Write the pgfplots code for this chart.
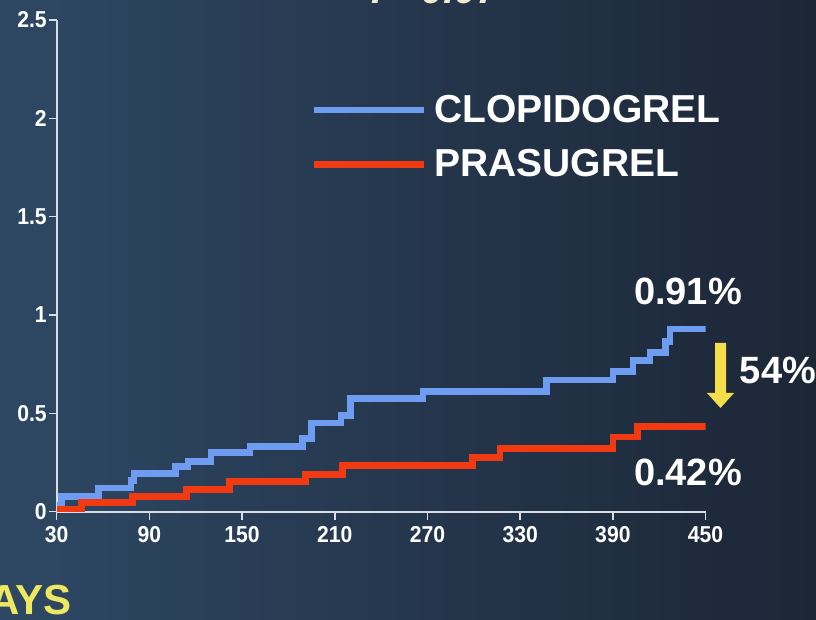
\documentclass[border=0pt]{standalone}
\usepackage{pgfplots}
\pgfplotsset{compat=1.18}
\usepackage{fontspec}
\setmainfont{Liberation Sans}
\newfontfamily\narrowfont[FakeStretch=0.92]{Liberation Sans}
\definecolor{bgL}{HTML}{2E4864}
\definecolor{bgR}{HTML}{1C2636}
\definecolor{clopi}{HTML}{6E9CF0}
\definecolor{prasu}{HTML}{F23A12}
\definecolor{axcol}{HTML}{D8DEE8}
\definecolor{arrowy}{HTML}{F4DE4C}
\definecolor{daysy}{HTML}{EEE860}
\begin{document}
\begin{tikzpicture}
\path[use as bounding box] (0,0) rectangle (408pt,310pt);
\clip (0,0) rectangle (408pt,310pt);
\shade[left color=bgL, right color=bgR] (0,0) rectangle (408pt,310pt);
\begin{axis}[
  at={(28.35pt,54.15pt)}, anchor=south west,
  scale only axis, width=324.45pt, height=245.85pt,
  xmin=30, xmax=450, ymin=0, ymax=2.5,
  axis lines=left,
  axis line style={axcol, line width=1pt, -},
  xtick={30,90,150,210,270,330,390,450},
  ytick={0,0.5,1,1.5,2,2.5},
  tick align=outside, major tick length=4pt,
  tick style={axcol, line width=0.8pt},
  /pgf/number format/assume math mode=true,
  tick label style={font=\narrowfont\bfseries\fontsize{11.5}{13}\selectfont, text=white},
  yticklabel style={inner sep=0.8pt},
  legend image code/.code={\draw[#1, line width=3.3pt] (0pt,0pt) -- (55pt,0pt); \path[draw=none] (60pt,0pt);},
  legend style={draw=none, fill=none, inner sep=0pt, outer sep=0pt,
    at={(0.392,0.8475)}, anchor=north west,
    font=\bfseries\fontsize{19.5}{23}\selectfont, text=white,
    nodes={inner sep=0pt},
    row sep=12pt},
  legend cell align=left,
]
\addplot[clopi, line width=3.3pt, const plot] coordinates {
(30,0.03) (33,0.076) (57,0.12) (78,0.16) (80,0.195) (107,0.23) (115,0.255)
(130,0.30) (155,0.33) (189,0.373) (195,0.45) (214,0.49) (220,0.576) (267,0.61)
(347,0.669) (390,0.712) (403,0.77) (414,0.81) (424,0.864) (427,0.929) (450,0.929)};
\addlegendentry{CLOPIDOGREL}
\addplot[prasu, line width=3.3pt, const plot] coordinates {
(30,0.012) (46,0.048) (79,0.076) (114,0.114) (142,0.153) (191,0.19) (215,0.234)
(299,0.275) (317,0.32) (390,0.38) (406,0.432) (450,0.432)};
\addlegendentry{PRASUGREL}
\end{axis}
\node[font=\bfseries\fontsize{19}{22}\selectfont, text=white] at (344pt,164.5pt) {0.91\%};
\node[font=\bfseries\fontsize{19}{22}\selectfont, text=white] at (344pt,74pt) {0.42\%};
\node[font=\bfseries\fontsize{19}{22}\selectfont, text=white] at (389pt,125pt) {54\%};
\fill[arrowy] (357.5pt,138.5pt) -- (363pt,138.5pt) -- (363pt,113.5pt) -- (367pt,113.5pt)
  -- (360.25pt,106pt) -- (353.5pt,113.5pt) -- (357.5pt,113.5pt) -- cycle;
\node[anchor=base, font=\bfseries\itshape\fontsize{20}{24}\selectfont, text={rgb,255:red,240;green,236;blue,208}] at (217.5pt,308pt) {P=0.07};
\node[anchor=base east, inner sep=0pt, font=\bfseries\fontsize{21}{25}\selectfont, text=daysy] at (36pt,2.5pt) {DAYS};
\end{tikzpicture}
\end{document}
